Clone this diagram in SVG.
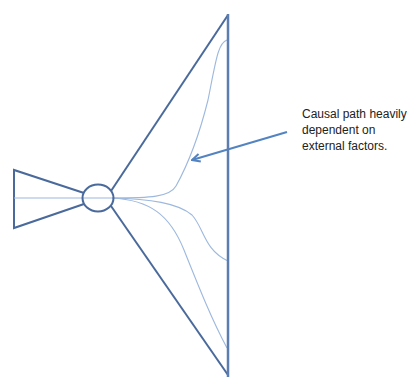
<svg xmlns="http://www.w3.org/2000/svg" width="411" height="377" viewBox="0 0 411 377">
<defs>
<style>
.dark{fill:none;stroke:#4a6a9c;stroke-width:2}
.curve{fill:none;stroke:#9db8de;stroke-width:1.1}
.arrow{fill:none;stroke:#5383c0;stroke-width:2}
.label{font-family:"Liberation Sans",Arial,sans-serif;font-size:12px;fill:#222}
</style>
<marker id="ah" markerWidth="10" markerHeight="10" refX="9" refY="5" orient="auto" markerUnits="userSpaceOnUse">
<path d="M1,1 L9,5 L1,9" fill="none" stroke="#5383c0" stroke-width="2"/>
</marker>
</defs>
<g id="left-triangle">
<path class="dark" d="M84,193 L14,170 L14,228 L84,204"/>
</g>
<g id="connectors">
<path class="curve" d="M14,198 L112,198"/>
<path class="curve" d="M112,198 C150,198 170,197 176,186 C186,168 198,140 208,100 C216,60 218,43 227,40"/>
<path class="curve" d="M112,198 C150,199 178,203 192,215 C204,228 204,250 228,261"/>
<path class="curve" d="M112,198 C150,200 170,215 184,250 C200,290 212,320 227,348"/>
<path class="arrow" d="M287,132 L192,160" marker-end="url(#ah)"/>
</g>
<g id="hub">
<ellipse class="dark" cx="98" cy="198" rx="15.5" ry="13.5" fill="#fff"/>
</g>
<g id="fan">
<path class="dark" d="M111,191 L228,15"/>
<path class="dark" d="M111,206 L228,375"/>
<path d="M228,14 L228,377" fill="none" stroke="#5b7db1" stroke-width="2.5"/>
</g>
<g id="note">
<text class="label" x="302" y="118">Causal path heavily</text>
<text class="label" x="302" y="134">dependent on</text>
<text class="label" x="302" y="150">external factors.</text>
</g>
</svg>
